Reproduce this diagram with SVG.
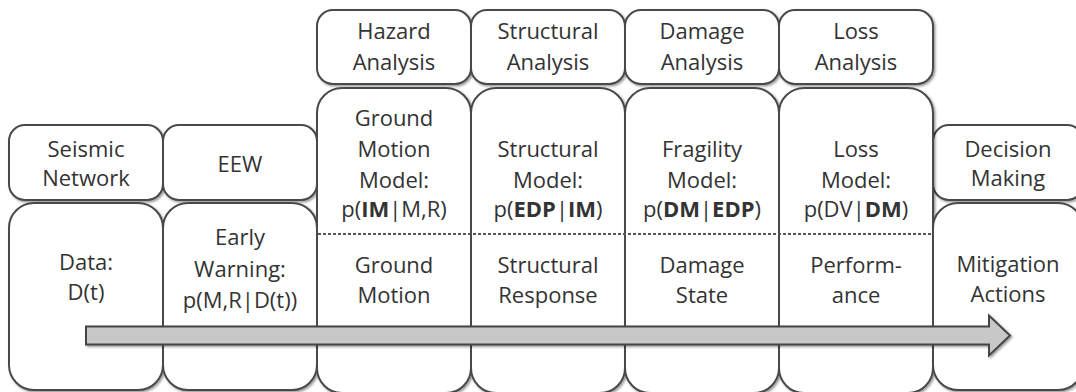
<svg xmlns="http://www.w3.org/2000/svg" width="1076" height="392" viewBox="0 0 1076 392">
<defs>
<filter id="sh" x="-10%" y="-10%" width="120%" height="120%">
<feDropShadow dx="1.5" dy="1.5" stdDeviation="1.2" flood-color="#000" flood-opacity="0.4"/>
</filter>
<style>
.box{fill:#fff;stroke:#4a4a4a;stroke-width:2;filter:url(#sh)}
.t{font-family:"Open Sans","Liberation Sans",sans-serif;font-size:22px;fill:#333;text-anchor:middle}
.b{font-weight:bold}
.div{stroke:#555;stroke-width:2.2;stroke-dasharray:3 2;fill:none}
.arrow{fill:#c8c8c8;stroke:#444;stroke-width:2;filter:url(#sh)}
</style>
</defs>
<rect width="1076" height="392" fill="#fff"/>

<g id="seismic-network"><rect class="box" x="9" y="125" width="154" height="75" rx="16"/>
<text class="t" x="86" y="157">Seismic</text><text class="t" x="86" y="186">Network</text></g>
<g id="eew"><rect class="box" x="163" y="125" width="154" height="75" rx="16"/>
<text class="t" x="240" y="172">EEW</text></g>
<g id="hazard-analysis"><rect class="box" x="317" y="10" width="154" height="74" rx="16"/>
<text class="t" x="394" y="39">Hazard</text><text class="t" x="394" y="70">Analysis</text></g>
<g id="structural-analysis"><rect class="box" x="471" y="10" width="154" height="74" rx="16"/>
<text class="t" x="548" y="39">Structural</text><text class="t" x="548" y="70">Analysis</text></g>
<g id="damage-analysis"><rect class="box" x="625" y="10" width="154" height="74" rx="16"/>
<text class="t" x="702" y="39">Damage</text><text class="t" x="702" y="70">Analysis</text></g>
<g id="loss-analysis"><rect class="box" x="779" y="10" width="154" height="74" rx="16"/>
<text class="t" x="856" y="39">Loss</text><text class="t" x="856" y="70">Analysis</text></g>
<g id="decision-making"><rect class="box" x="933" y="125" width="150" height="75" rx="16"/>
<text class="t" x="1008" y="157">Decision</text><text class="t" x="1008" y="186">Making</text></g>

<g id="data"><rect class="box" x="9" y="203" width="154" height="187" rx="25"/>
<text class="t" x="86" y="270">Data:</text><text class="t" x="86" y="300">D(t)</text></g>
<g id="early-warning"><rect class="box" x="163" y="203" width="154" height="187" rx="25"/>
<text class="t" x="240" y="245">Early</text><text class="t" x="240" y="277">Warning:</text><text class="t" x="240" y="308">p(M,R|D(t))</text></g>
<g id="ground-motion"><rect class="box" x="317" y="88" width="154" height="305" rx="25"/>
<text class="t" x="394" y="126">Ground</text><text class="t" x="394" y="157">Motion</text><text class="t" x="394" y="188">Model:</text>
<text class="t" x="394" y="217">p(<tspan class="b">IM</tspan>|M,R)</text>
<text class="t" x="394" y="273">Ground</text><text class="t" x="394" y="303">Motion</text></g>
<g id="structural-response"><rect class="box" x="471" y="88" width="154" height="305" rx="25"/>
<text class="t" x="548" y="157">Structural</text><text class="t" x="548" y="188">Model:</text>
<text class="t" x="548" y="217">p(<tspan class="b">EDP</tspan>|<tspan class="b">IM</tspan>)</text>
<text class="t" x="548" y="273">Structural</text><text class="t" x="548" y="303">Response</text></g>
<g id="damage-state"><rect class="box" x="625" y="88" width="154" height="305" rx="25"/>
<text class="t" x="702" y="157">Fragility</text><text class="t" x="702" y="188">Model:</text>
<text class="t" x="702" y="217">p(<tspan class="b">DM</tspan>|<tspan class="b">EDP</tspan>)</text>
<text class="t" x="702" y="273">Damage</text><text class="t" x="702" y="303">State</text></g>
<g id="performance"><rect class="box" x="779" y="88" width="154" height="305" rx="25"/>
<text class="t" x="856" y="157">Loss</text><text class="t" x="856" y="188">Model:</text>
<text class="t" x="856" y="217">p(DV|<tspan class="b">DM</tspan>)</text>
<text class="t" x="856" y="273">Perform-</text><text class="t" x="856" y="303">ance</text></g>
<g id="mitigation-actions"><rect class="box" x="933" y="203" width="150" height="187" rx="25"/>
<text class="t" x="1008" y="272">Mitigation</text><text class="t" x="1008" y="302">Actions</text></g>

<g id="divider"><line class="div" x1="318" y1="234" x2="932" y2="234"/></g>

<g id="connectors">
<polygon class="arrow" points="86,326.5 989,326.5 989,315.5 1010,335.5 989,355.5 989,344.5 86,344.5"/>
</g>
</svg>
